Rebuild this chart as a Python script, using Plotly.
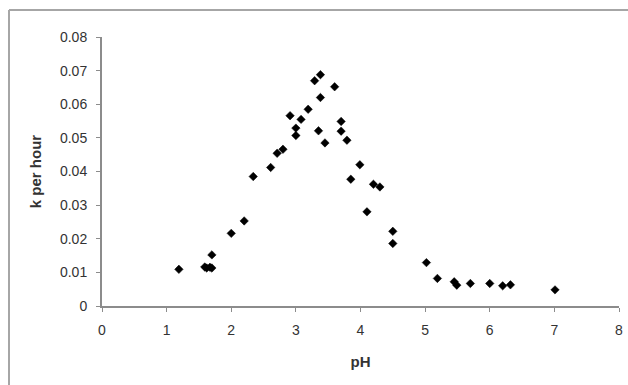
import plotly.graph_objects as go

ph = [1.19, 1.59, 1.62, 1.67, 1.70, 1.70, 2.00, 2.20, 2.34, 2.61, 2.71, 2.80,
      2.91, 3.00, 3.00, 3.08, 3.19, 3.29, 3.38, 3.38, 3.35, 3.45, 3.60, 3.70,
      3.70, 3.79, 3.85, 3.99, 4.10, 4.20, 4.30, 4.50, 4.50, 5.02, 5.19, 5.45,
      5.49, 5.70, 6.00, 6.20, 6.32, 7.01]
k = [0.0109, 0.0116, 0.0113, 0.0115, 0.0113, 0.0152, 0.0216, 0.0253, 0.0385, 0.0412, 0.0454, 0.0466,
     0.0566, 0.0529, 0.0507, 0.0555, 0.0585, 0.0670, 0.0688, 0.0620, 0.0521, 0.0485, 0.0652, 0.0549,
     0.0520, 0.0493, 0.0377, 0.0420, 0.0280, 0.0362, 0.0354, 0.0222, 0.0186, 0.0129, 0.0082, 0.0072,
     0.0062, 0.0067, 0.0067, 0.0060, 0.0063, 0.0048]

x_ticks = [0, 1, 2, 3, 4, 5, 6, 7, 8]
y_ticks = [0, 0.01, 0.02, 0.03, 0.04, 0.05, 0.06, 0.07, 0.08]
y_tick_labels = ["0", "0.01", "0.02", "0.03", "0.04", "0.05", "0.06", "0.07", "0.08"]

W, H = 628, 385
L, R, T, B = 102, 9, 37, 79
pw, ph_ = W - L - R, H - T - B

FONT = "Liberation Sans, Arial, sans-serif"

fig = go.Figure()
fig.add_trace(go.Scatter(
    x=ph, y=k, mode="markers",
    marker=dict(symbol="diamond", size=6.5, color="black", line=dict(width=0.5, color="black")),
    showlegend=False,
))

axis_color = "#8c8c8c"
tick_font = dict(family=FONT, size=14, color="#333333")

fig.update_xaxes(
    range=[0, 8], tickvals=x_ticks, ticktext=[str(v) for v in x_ticks],
    showgrid=False, zeroline=False, showline=True, linecolor=axis_color, linewidth=2,
    ticks="outside", ticklen=4, tickwidth=1, tickcolor=axis_color,
    tickfont=tick_font, ticklabelstandoff=6,
    title=dict(text="<b>pH</b>", font=dict(family=FONT, size=15, color="#333333"), standoff=20),
    automargin=False,
)
fig.update_yaxes(
    range=[0, 0.08], tickvals=y_ticks, ticktext=y_tick_labels,
    showgrid=False, zeroline=False, showline=True, linecolor=axis_color, linewidth=2,
    ticks="outside", ticklen=4, tickwidth=1, tickcolor=axis_color,
    tickfont=tick_font, ticklabelstandoff=6,
    title=dict(text="<b>k per hour</b>", font=dict(family=FONT, size=15, color="#333333"), standoff=15),
    automargin=False,
)

# outer chart border (left and top edges visible; the rest is cropped)
border = dict(color="#a6a6a6", width=2)
fig.add_shape(type="line", xref="paper", yref="paper",
              x0=(9 - L) / pw, x1=(9 - L) / pw, y0=-0.5, y1=(H - B - 10) / ph_,
              line=border, layer="below")
fig.add_shape(type="line", xref="paper", yref="paper",
              x0=(9 - L) / pw, x1=(640 - L) / pw, y0=(H - B - 10) / ph_, y1=(H - B - 10) / ph_,
              line=border, layer="below")

fig.update_layout(
    width=W, height=H,
    margin=dict(l=L, r=R, t=T, b=B),
    paper_bgcolor="white", plot_bgcolor="white",
)

fig.write_html("out.html", config={"displayModeBar": False},
               post_script="document.body.style.margin='0';document.body.style.overflow='hidden';")
